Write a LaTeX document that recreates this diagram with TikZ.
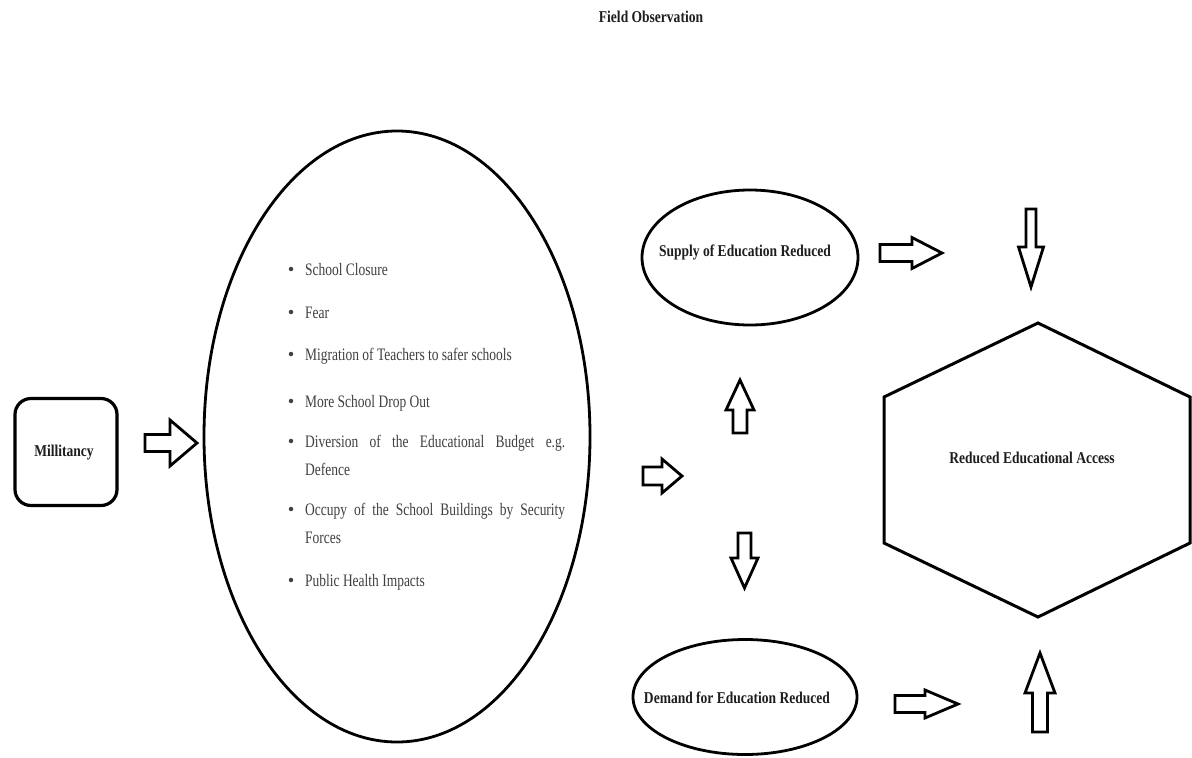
\documentclass[tikz,border=0pt]{standalone}
\usepackage{fontspec}
\setmainfont{Liberation Serif}[FakeStretch=0.82]
\newfontfamily\bodyfont{Liberation Serif}[FakeStretch=0.77]
\usetikzlibrary{shapes.geometric}
\definecolor{bodytxt}{HTML}{404040}
\definecolor{labtxt}{HTML}{1E1E1E}
\newcommand{\barrow}[7]{\draw[barr,shift={(#1,#2)},rotate=#3] (0,-#5) -- ({#4-#7},-#5) -- ({#4-#7},-#6) -- (#4,0) -- ({#4-#7},#6) -- ({#4-#7},#5) -- (0,#5) -- cycle;}
\tikzset{
  x=1pt, y=-1pt,
  barr/.style={draw=black, line width=2.8pt, line join=miter, fill=white},
  lab/.style={text=labtxt, font=\fontsize{16.5}{19}\selectfont\bfseries, inner sep=0pt},
  body/.style={text=bodytxt, font=\bodyfont\fontsize{17.5}{20}\selectfont, inner sep=0pt, anchor=base west},
  bul/.style={circle, fill=bodytxt, inner sep=0pt, minimum size=4.5pt},
  oval/.style={draw=black, ellipse, line width=2.8pt, inner sep=0pt},
}
\begin{document}
\begin{tikzpicture}
\useasboundingbox (0,0) rectangle (1192,758);
\fill[white] (0,0) rectangle (1192,758);

% title
\node[lab] (title) at (651,17) {Field Observation};

% Millitancy
\node[draw=black, line width=3.2pt, rounded corners=16pt, minimum width=102pt, minimum height=107pt, inner sep=0pt] (mil) at (66,452) {};
\node[lab] (miltxt) at (64,453) {Millitancy};

% big ellipse
\node[oval, minimum width=386pt, minimum height=611pt] (big) at (397,436.5) {};

% bullet items
\foreach \yy/\nm in {269/b1,312/b2,354/b3,401/b4,441/b5,509/b6,580/b7}{
  \node[bul] (\nm) at (291,\yy) {};
}
\node[body] (t1) at (305,275) {School Closure};
\node[body] (t2) at (305,318) {Fear};
\node[body] (t3) at (305,360) {Migration of Teachers to safer schools};
\node[body] (t4) at (305,407) {More School Drop Out};
\node[body] (t5) at (305,447) {\makebox[260pt][s]{Diversion of the Educational Budget e.g.}};
\node[body] (t5b) at (305,475) {Defence};
\node[body] (t6) at (305,515) {\makebox[260pt][s]{Occupy of the School Buildings by Security}};
\node[body] (t6b) at (305,543) {Forces};
\node[body] (t7) at (305,586) {Public Health Impacts};

% supply / demand ellipses
\node[oval, minimum width=216pt, minimum height=135pt] (sup) at (750,257.5) {};
\node[lab] (suptxt) at (745,252) {Supply of Education Reduced};
\node[oval, minimum width=224pt, minimum height=115pt] (dem) at (745,697) {};
\node[lab] (demtxt) at (737,698) {Demand for Education Reduced};

% hexagon
\coordinate (h1) at (1038,323);
\coordinate (h2) at (1190,397);
\coordinate (h3) at (1190,543);
\coordinate (h4) at (1038,617);
\coordinate (h5) at (884,543);
\coordinate (h6) at (884,397);
\draw[line width=3pt, line join=miter] (h1) -- (h2) -- (h3) -- (h4) -- (h5) -- (h6) -- cycle;
\node[lab] (hextxt) at (1032,458) {Reduced Educational Access};

% block arrows
\barrow{145}{443}{0}{52}{8.5}{23}{27}
\barrow{643}{476}{0}{39}{9}{17}{20}
\barrow{740}{433}{90}{53}{7}{14}{30}
\barrow{744.5}{533}{-90}{55}{6.5}{13.5}{30}
\barrow{880}{253}{0}{62}{8.5}{15.5}{30}
\barrow{1031}{209}{-90}{78}{5}{12.5}{40}
\barrow{895}{704}{0}{63}{8.5}{14}{33}
\barrow{1040}{732}{90}{79}{7.5}{15}{40}
\end{tikzpicture}
\end{document}
